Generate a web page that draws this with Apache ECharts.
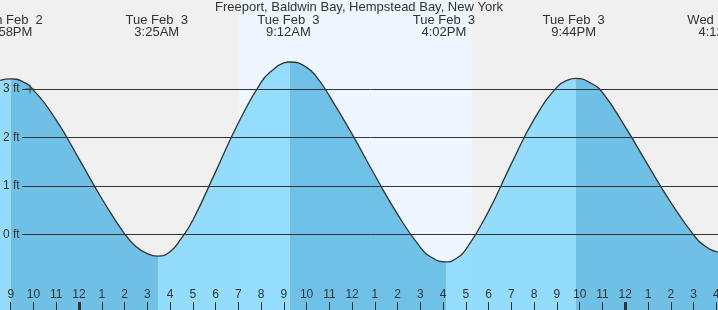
<!DOCTYPE html>
<html>
<head>
<meta charset="utf-8">
<style>html,body{margin:0;padding:0;background:#f0f0f0;}#c{width:718px;height:310px;}</style>
<script src="https://cdn.jsdelivr.net/npm/echarts@6/dist/echarts.min.js"></script>
</head>
<body>
<div id="c"></div>
<script>
// Hours counted from Mon Feb 2 00:00 (local time)
const tideHours = [20.529, 21.012, 21.5, 22, 23, 24, 25, 26, 26.5, 27, 27.458, 28, 28.5, 29, 30, 31, 32, 32.5, 33, 33.271, 34, 34.5, 35, 36, 37, 38, 39, 39.5, 40.125, 40.5, 41, 42, 43, 44, 45, 45.5, 45.837, 46.5, 47, 48, 49, 50, 51, 51.5, 52, 52.2];
const tideFeet  = [3.18, 3.21, 3.16, 2.98, 2.36, 1.56, 0.74, 0.01, -0.25, -0.40, -0.45, -0.36, -0.08, 0.29, 1.29, 2.30, 3.14, 3.39, 3.54, 3.56, 3.45, 3.21, 2.86, 2.07, 1.22, 0.41, -0.27, -0.48, -0.57, -0.52, -0.31, 0.48, 1.46, 2.38, 3.04, 3.19, 3.22, 3.12, 2.93, 2.22, 1.43, 0.66, -0.01, -0.24, -0.36, -0.37];
const phaseBreaks = [21.012, 27.458, 33.271, 40.125, 45.837];
const hourTicks = [21,22,23,24,25,26,27,28,29,30,31,32,33,34,35,36,37,38,39,40,41,42,43,44,45,46,47,48,49,50,51,52];
const midnightTicks = [24, 48];
const extremeHours = [20.967, 27.417, 33.2, 40.033, 45.733, 52.2];
const extremeDates = ['Mon Feb  2', 'Tue Feb  3', 'Tue Feb  3', 'Tue Feb  3', 'Tue Feb  3', 'Wed Feb  4'];
const extremeTimes = ['8:58PM', '3:25AM', '9:12AM', '4:02PM', '9:44PM', '4:12AM'];
const footTicks = [0, 1, 2, 3];
const daylight = [31.03, 41.27];
const nowMark = [[21.847, 3]];

const X_MIN = 20.529, X_MAX = 53.394, Y_MIN = -1.564, Y_MAX = 4.841;
const GRID_START = 21.496;
const FONT = 'Liberation Sans, Arial, sans-serif';
const TXT = '#333';
const LIGHT = 'rgba(138,218,253,0.9)';
const DARK = 'rgba(98,187,229,0.9)';

const tideData = tideHours.map((h, i) => [h, tideFeet[i]]);
const pieces = [];
let prev = null;
phaseBreaks.concat([null]).forEach((b, i) => {
  const p = { color: i % 2 === 0 ? LIGHT : DARK };
  if (prev !== null) p.gte = prev;
  if (b !== null) p.lt = b;
  pieces.push(p);
  prev = b;
});

const baseX = { type: 'value', min: X_MIN, max: X_MAX, gridIndex: 0, z: 10, splitLine: { show: false }, axisLine: { show: false, onZero: false } };

const chart = echarts.init(document.getElementById('c'), null, { renderer: 'canvas' });
chart.setOption({
  backgroundColor: '#f0f0f0',
  animation: false,
  title: {
    text: 'Freeport, Baldwin Bay, Hempstead Bay, New York',
    left: 'center', top: 1, padding: 0,
    textStyle: { fontFamily: FONT, fontSize: 13, fontWeight: 'normal', color: TXT }
  },
  grid: { left: 0, right: -30, top: 0, bottom: 0, containLabel: false, outerBoundsMode: 'none' },
  xAxis: [
    Object.assign({}, baseX, {
      position: 'bottom',
      axisTick: { show: true, inside: true, length: 8, customValues: hourTicks, lineStyle: { color: TXT, width: 1 } },
      axisLabel: { show: true, inside: true, margin: 9, customValues: hourTicks, fontFamily: FONT, fontSize: 12, color: TXT,
        formatter: v => String((Math.round(v) % 12) || 12) }
    }),
    Object.assign({}, baseX, {
      position: 'bottom',
      axisTick: { show: true, inside: true, length: 8, customValues: midnightTicks, lineStyle: { color: TXT, width: 3 } },
      axisLabel: { show: false }
    }),
    Object.assign({}, baseX, {
      position: 'top',
      axisTick: { show: false },
      axisLabel: { show: true, inside: true, margin: 14, customValues: extremeHours, fontFamily: FONT, fontSize: 13, lineHeight: 12, color: TXT, align: 'center',
        formatter: v => { const i = extremeHours.indexOf(v); return extremeDates[i] + '\n' + extremeTimes[i]; } }
    })
  ],
  yAxis: {
    type: 'value', min: Y_MIN, max: Y_MAX, z: 10,
    axisLine: { show: false, onZero: false }, axisTick: { show: false }, splitLine: { show: false },
    axisLabel: { inside: true, margin: 3, customValues: footTicks, fontFamily: FONT, fontSize: 12, color: TXT,
      formatter: v => Math.round(v) + ' ft' }
  },
  visualMap: {
    type: 'piecewise', show: false, seriesIndex: 2, dimension: 0, pieces: pieces
  },
  series: [
    {
      type: 'line', data: [], z: 0, silent: true,
      markArea: { silent: true, itemStyle: { color: '#eef7ff' }, data: [[{ xAxis: daylight[0] }, { xAxis: daylight[1] }]] }
    },
    {
      type: 'line', data: [], z: 1, silent: true,
      markLine: { silent: true, symbol: 'none', label: { show: false }, lineStyle: { color: TXT, type: 'solid', width: 1 },
        data: footTicks.map(f => [{ coord: [GRID_START, f] }, { coord: [X_MAX, f] }]) }
    },
    {
      type: 'line', data: tideData, z: 2, smooth: true, showSymbol: false, silent: true,
      lineStyle: { width: 0 }, areaStyle: { opacity: 1, origin: 'start' }
    },
    {
      type: 'line', data: tideData, z: 3, smooth: true, showSymbol: false, silent: true,
      lineStyle: { color: '#333', width: 1.3 }
    },
    {
      type: 'scatter', data: nowMark, z: 4, silent: true, symbolSize: 9,
      symbol: 'path://M0,4.4h10v1.2h-10z M4.4,0h1.2v10h-1.2z',
      itemStyle: { color: '#333' }
    }
  ]
});
</script>
</body>
</html>
